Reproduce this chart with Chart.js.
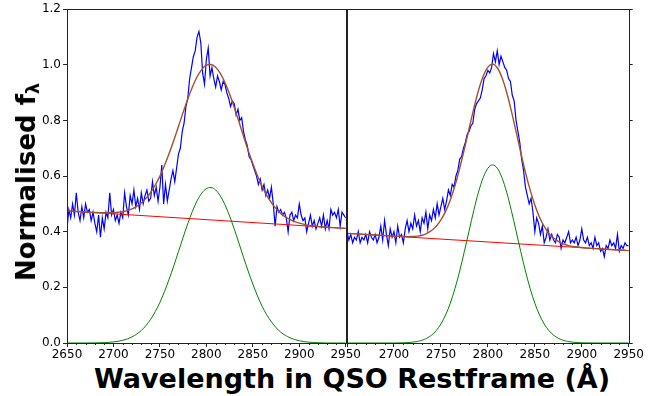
<!DOCTYPE html>
<html>
<head>
<meta charset="utf-8">
<script src="https://cdn.jsdelivr.net/npm/chart.js@4.4.0/dist/chart.umd.min.js"></script>
<style>
  html, body { margin: 0; padding: 0; background: #fff; }
  #wrap { position: relative; width: 668px; height: 396px; overflow: hidden; font-family: 'DejaVu Sans', sans-serif; }
  #left-panel { position: absolute; left: 0; top: 0; }
  #right-panel { position: absolute; left: 335px; top: 0; }
  .axis-title { position: absolute; font-weight: bold; color: #000; white-space: nowrap; line-height: 1; }
  #y-title { left: 26px; top: 182px; font-size: 26px; transform: translate(-50%, -50%) rotate(-90deg); }
  #y-title sub { font-size: 0.68em; vertical-align: -0.25em; line-height: 0; }
  #x-title { left: 67px; width: 570px; top: 365px; font-size: 27px; text-align: center; }
</style>
</head>
<body>
<div id="wrap">
  <canvas id="left-panel" width="362" height="362"></canvas>
  <canvas id="right-panel" width="310" height="362"></canvas>
  <div id="y-title" class="axis-title">Normalised f<sub>λ</sub></div>
  <div id="x-title" class="axis-title">Wavelength in QSO Restframe (Å)</div>
</div>
<script>
// ---- axes ----
const xTickValues = [2650, 2700, 2750, 2800, 2850, 2900, 2950];
const yTickValues = [0, 0.2, 0.4, 0.6, 0.8, 1.0, 1.2];
const X_MINOR_STEP = 10;

// ---- observed spectra, sampled every 2 A from 2650 ----
const SPEC_START = 2650;
const SPEC_STEP = 2;

const leftSpecFlux = [
  0.41, 0.48, 0.45, 0.50, 0.46,  0.54, 0.47, 0.44, 0.49, 0.45,
  0.50, 0.47, 0.48, 0.44, 0.47,  0.43, 0.40, 0.46, 0.38, 0.45,
  0.41, 0.47, 0.45, 0.54, 0.46,  0.48, 0.44, 0.46, 0.43, 0.47,
  0.45, 0.54, 0.49, 0.46, 0.53,  0.50, 0.55, 0.49, 0.52, 0.48,
  0.54, 0.50, 0.53, 0.55, 0.51,  0.52, 0.58, 0.53, 0.56, 0.51,
  0.56, 0.64, 0.50, 0.57, 0.51,  0.55, 0.59, 0.62, 0.58, 0.63,
  0.68, 0.70, 0.76, 0.79, 0.85,  0.88, 0.95, 0.99, 1.03, 1.05,
  1.10, 1.12, 1.08, 0.97, 0.93,  1.02, 1.06, 0.96, 0.99, 0.95,
  0.92, 0.96, 0.94, 0.91, 0.94,  0.93, 0.90, 0.88, 0.85, 0.87,
  0.86, 0.82, 0.84, 0.80, 0.81,  0.76, 0.73, 0.71, 0.67, 0.66,
  0.64, 0.62, 0.60, 0.57, 0.59,  0.55, 0.57, 0.53, 0.55, 0.52,
  0.56, 0.50, 0.42, 0.49, 0.47,  0.48, 0.46, 0.47, 0.45, 0.40,
  0.46, 0.47, 0.44, 0.46, 0.45,  0.50, 0.46, 0.44, 0.45, 0.40,
  0.43, 0.46, 0.42, 0.44, 0.41,  0.43, 0.45, 0.42, 0.46, 0.41,
  0.44, 0.41, 0.48, 0.46, 0.47,  0.45, 0.48, 0.42, 0.47, 0.46,
  0.45
];

const rightSpecFlux = [
  0.40, 0.37, 0.39, 0.36, 0.38,  0.37, 0.40, 0.36, 0.38, 0.37,
  0.39, 0.36, 0.40, 0.38, 0.37,  0.39, 0.36, 0.38, 0.42, 0.37,
  0.44, 0.39, 0.35, 0.41, 0.38,  0.40, 0.36, 0.42, 0.38, 0.39,
  0.36, 0.41, 0.44, 0.40, 0.43,  0.41, 0.46, 0.42, 0.44, 0.40,
  0.45, 0.43, 0.47, 0.41, 0.46,  0.44, 0.48, 0.45, 0.50, 0.46,
  0.49, 0.52, 0.48, 0.51, 0.55,  0.53, 0.57, 0.56, 0.60, 0.62,
  0.66, 0.67, 0.70, 0.72, 0.75,  0.76, 0.78, 0.79, 0.84, 0.86,
  0.87, 0.88, 0.91, 0.95, 0.96,  0.98, 0.97, 0.99, 1.04, 1.01,
  1.05, 1.00, 1.03, 1.01, 0.99,  0.98, 0.95, 0.94, 0.89, 0.87,
  0.80, 0.76, 0.72, 0.66, 0.62,  0.56, 0.53, 0.50, 0.52, 0.47,
  0.40, 0.45, 0.43, 0.39, 0.42,  0.36, 0.38, 0.41, 0.37, 0.39,
  0.37, 0.36, 0.39, 0.38, 0.34,  0.37, 0.36, 0.38, 0.40, 0.36,
  0.37, 0.36, 0.38, 0.35, 0.37,  0.41, 0.37, 0.36, 0.38, 0.35,
  0.36, 0.34, 0.38, 0.35, 0.36,  0.33, 0.34, 0.31, 0.35, 0.34,
  0.37, 0.35, 0.36, 0.34, 0.39,  0.33, 0.35, 0.34, 0.36, 0.35,
  0.35
];

// ---- model curves (continuum, broad component, total fit) ----
const fitWave = [
  2650, 2660, 2670, 2680, 2690,
  2695, 2700, 2705, 2710, 2715, 2720, 2725, 2730, 2735, 2740,
  2745, 2750, 2755, 2760, 2765, 2770, 2775, 2780, 2785, 2790,
  2795, 2800, 2805, 2810, 2815, 2820, 2825, 2830, 2835, 2840,
  2845, 2850, 2855, 2860, 2865, 2870, 2875, 2880, 2885, 2890,
  2895, 2900, 2905, 2910, 2915, 2920,
  2930, 2940, 2950
];

const leftFitFlux = [
  0.475, 0.473, 0.471, 0.469, 0.468,
  0.468, 0.468, 0.470, 0.472, 0.476, 0.482, 0.491, 0.503, 0.520, 0.541,
  0.568, 0.600, 0.639, 0.682, 0.729, 0.779, 0.829, 0.877, 0.920, 0.957,
  0.983, 0.999, 1.001, 0.991, 0.969, 0.936, 0.895, 0.847, 0.796, 0.743,
  0.692, 0.645, 0.601, 0.563, 0.531, 0.505, 0.483, 0.466, 0.453, 0.444,
  0.436, 0.431, 0.427, 0.423, 0.421, 0.419,
  0.416, 0.414, 0.412
];

const leftGaussFlux = [
  0, 0, 0, 0.0005, 0.0012,
  0.0024, 0.0039, 0.0062, 0.0097, 0.0147, 0.022, 0.0319, 0.045, 0.0628, 0.085,
  0.113, 0.146, 0.1856, 0.230, 0.278, 0.329, 0.380, 0.429, 0.4736, 0.511,
  0.5386, 0.555, 0.5587, 0.550, 0.5288, 0.497, 0.4565, 0.410, 0.3596, 0.308,
  0.2583, 0.212, 0.1694, 0.132, 0.1013, 0.076, 0.0552, 0.039, 0.0275, 0.019,
  0.0125, 0.008, 0.005, 0.003, 0.002, 0.001,
  0, 0, 0
];

const rightFitFlux = [
  0.394, 0.392, 0.390, 0.388, 0.386,
  0.385, 0.384, 0.383, 0.383, 0.382, 0.383, 0.384, 0.387, 0.394, 0.404,
  0.419, 0.442, 0.473, 0.514, 0.566, 0.628, 0.697, 0.770, 0.842, 0.907,
  0.958, 0.991, 1.002, 0.989, 0.954, 0.901, 0.834, 0.760, 0.685, 0.613,
  0.550, 0.496, 0.452, 0.419, 0.394, 0.377, 0.365, 0.356, 0.351, 0.347,
  0.345, 0.343, 0.341, 0.340, 0.339, 0.338,
  0.336, 0.334, 0.332
];

const rightGaussFlux = [
  0, 0, 0, 0, 0,
  0, 0, 0.0004, 0.0008, 0.0016, 0.0031, 0.0056, 0.010, 0.0171, 0.0281,
  0.0447, 0.0683, 0.1007, 0.1431, 0.196, 0.2586, 0.329, 0.403, 0.476, 0.542,
  0.594, 0.628, 0.640, 0.628, 0.594, 0.542, 0.476, 0.403, 0.329, 0.2586,
  0.196, 0.1431, 0.1007, 0.0683, 0.0447, 0.0281, 0.0171, 0.010, 0.0056, 0.0031,
  0.0016, 0.0008, 0.0004, 0.0002, 0.0001, 0,
  0, 0, 0
];

const continuumWave = [2650, 2950];
const leftContinuum = [0.475, 0.412];
const rightContinuum = [0.394, 0.332];

const COLORS = { spec: '#0000ff', fit: '#a0522d', cont: '#ff0000', gauss: '#008000', axis: '#222' };
const TICK_FONT = { family: 'DejaVu Sans', size: 12 };

function specPoints(flux) {
  return flux.map((y, i) => ({ x: SPEC_START + i * SPEC_STEP, y }));
}

function curvePoints(wave, flux) {
  return wave.map((x, i) => ({ x, y: flux[i] }));
}

// box around the plot area plus the small minor ticks on the wavelength axis
const panelFrame = {
  id: 'panelFrame',
  afterDraw(chart) {
    const { ctx, chartArea: { left, top, right, bottom }, scales: { x } } = chart;
    ctx.save();
    ctx.strokeStyle = COLORS.axis;
    ctx.lineWidth = 1;
    const l = Math.round(left) + 0.5, t = Math.round(top) + 0.5;
    ctx.strokeRect(l, t, Math.round(right) - Math.round(left), Math.round(bottom) - Math.round(top));
    ctx.beginPath();
    for (let v = x.min; v <= x.max; v += X_MINOR_STEP) {
      if (xTickValues.includes(v)) continue;
      const px = Math.round(x.getPixelForValue(v)) + 0.5;
      ctx.moveTo(px, Math.round(bottom));
      ctx.lineTo(px, Math.round(bottom) + 2);
    }
    ctx.stroke();
    ctx.restore();
  },
};

function buildPanel(canvasId, spec, fit, gauss, cont, side) {
  const isLeft = side === 'left';
  const canvas = document.getElementById(canvasId);

  return new Chart(canvas.getContext('2d'), {
    type: 'line',
    data: {
      datasets: [
        {
          label: 'fit',
          data: curvePoints(fitWave, fit),
          borderColor: COLORS.fit,
          borderWidth: 1.4,
          cubicInterpolationMode: 'monotone',
        },
        {
          label: 'broad',
          data: curvePoints(fitWave, gauss),
          borderColor: COLORS.gauss,
          borderWidth: 1,
          cubicInterpolationMode: 'monotone',
        },
        {
          label: 'continuum',
          data: curvePoints(continuumWave, cont),
          borderColor: COLORS.cont,
          borderWidth: 1,
        },
        {
          label: 'spectrum',
          data: specPoints(spec),
          borderColor: COLORS.spec,
          borderWidth: 1.2,
          tension: 0,
        },
      ],
    },
    options: {
      responsive: false,
      animation: false,
      events: [],
      elements: { point: { radius: 0 } },
      layout: { padding: isLeft ? { left: 0, top: 9, right: 15, bottom: 0 } : { left: 12, top: 9, right: 12, bottom: 0 } },
      plugins: { legend: { display: false }, tooltip: { enabled: false } },
      scales: {
        x: {
          type: 'linear',
          min: xTickValues[0],
          max: xTickValues[xTickValues.length - 1],
          afterBuildTicks: s => { s.ticks = xTickValues.map(value => ({ value })); },
          afterFit: s => { s.height = 19; },
          ticks: {
            autoSkip: false,
            maxRotation: 0,
            padding: 1,
            color: '#000',
            font: TICK_FONT,
            callback: v => (!isLeft && v === xTickValues[0] ? '' : String(v)),
          },
          grid: { drawOnChartArea: false, tickLength: 4, color: COLORS.axis },
          border: { display: false },
        },
        y: {
          position: isLeft ? 'left' : 'right',
          min: yTickValues[0],
          max: yTickValues[yTickValues.length - 1],
          afterBuildTicks: s => { s.ticks = yTickValues.map(value => ({ value })); },
          afterFit: s => { s.width = isLeft ? 67 : 4; },
          ticks: {
            display: isLeft,
            padding: 2,
            color: '#000',
            font: TICK_FONT,
            callback: v => v.toFixed(1),
          },
          grid: { drawOnChartArea: false, tickLength: 4, color: COLORS.axis },
          border: { display: false },
        },
      },
    },
    plugins: [panelFrame],
  });
}

buildPanel('left-panel', leftSpecFlux, leftFitFlux, leftGaussFlux, leftContinuum, 'left');
buildPanel('right-panel', rightSpecFlux, rightFitFlux, rightGaussFlux, rightContinuum, 'right');
</script>
</body>
</html>
